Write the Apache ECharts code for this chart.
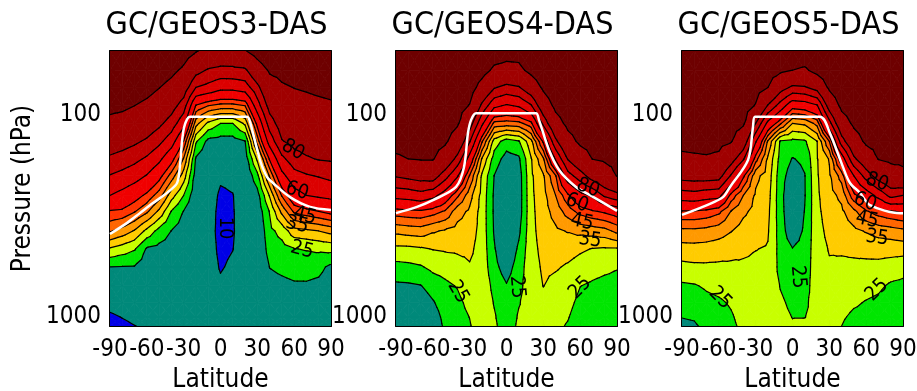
<!DOCTYPE html>
<html>
<head>
<meta charset="utf-8">
<script src="https://cdn.jsdelivr.net/npm/echarts@6/dist/echarts.min.js"></script>
<style>
  html, body { margin: 0; padding: 0; background: #fff; }
  #chart { width: 917px; height: 391px; }
</style>
</head>
<body>
<div id="chart"></div>
<script>
// ---- Grid of the zonal-mean fields: latitude columns, pressure rows (hPa) ----
const latitudes = [-90, -80, -70, -60, -50, -40, -30, -20, -10, 0, 10, 20, 30, 40, 50, 60, 70, 80, 90];
const pressures = [48.2, 60, 73, 90, 110, 135, 165, 200, 250, 300, 375, 460, 565, 700, 850, 1000, 1108];

// Contour levels and the fill colour of each band (below first level ... above last level)
const contourLevels = [10, 20, 25, 30, 35, 40, 45, 50, 60, 70, 80, 100];
const bandColors = ['#0000e6', '#00897a', '#00e600', '#c8ff00', '#ffcc00', '#ff9900', '#ff6600',
                    '#ff3300', '#f00000', '#dc0000', '#c00000', '#a00000', '#6e0000'];

const panelTitles = ['GC/GEOS3-DAS', 'GC/GEOS4-DAS', 'GC/GEOS5-DAS'];
const latTicks = [-90, -60, -30, 0, 30, 60, 90];
const pressureLabels = [100, 1000];
const pressureTicks = [50, 60, 70, 80, 90, 100, 200, 300, 400, 500, 600, 700, 800, 900, 1000];

// One row per pressure level (top to bottom), one value per latitude
const geos3Field = [
  [135,133,130,128,122,118,108,101,96,92,92,99,107,115,118,116,117,118,120],
  [125,123,120,117,109,104,97,84,78.7,76.7,77,78,91,102,104,106,108,109,112],
  [114,113,110,106,100.5,94.7,86.7,70,67,63,63,65,77,92.6,98.3,100.3,101.5,103,104],
  [104,103,100,96,91,84.7,74.7,49.3,45,43,43,45,65.4,84.2,91.7,94.4,95.7,96.9,98.1],
  [96,94,91.3,87.5,82.5,75.3,63.3,36.9,28.8,25,25,31,52,74.7,85.9,89,90.5,91.6,92.5],
  [87,85,82,78.3,72.4,64.4,49.4,25.6,18.5,18,18,19.8,42,64,79.3,83.4,85,86,86.8],
  [78,75.5,72.6,68.4,62.2,52.7,39.5,19.3,16,14.5,15,17,31,50.7,67.6,75.6,78.8,80.6,81.3],
  [69.5,67,64,59.4,52.4,42.8,32.5,17.5,14.5,11,11.5,15,23.5,40.6,57.1,66.4,69,70.6,72.4],
  [60,57,53.1,48.6,42.5,32.2,25,16,13.2,9,9.8,13.5,18,30.5,45.5,56.2,60,61.4,62.5],
  [49.5,48.8,45.4,41,33.9,24.8,19.8,15,12.5,8.5,9.6,13,16.5,25.3,36.3,46,48.1,50,52.1],
  [40.5,38,34.5,28.6,23.2,19.9,17.5,14.2,12,8.5,9.6,12.5,15,23.6,26.8,33,33.9,35,36.7],
  [29.4,27.5,25.5,19.4,18.5,18,16,13.8,12,9,9.9,12.5,14.5,22.3,23.2,24.8,25.4,26,26.5],
  [20,19.8,19.7,17.3,16.6,16.5,15,13.5,12.2,9.6,10.8,12.8,14,20.1,20.9,21.5,21.6,21.2,19],
  [16,16.2,16.4,15.1,14.6,15,14,13.5,12.5,10.8,12,13,14,18.5,19,19.5,19.5,19,17.5],
  [12,13,13.6,13.1,13,13.8,13.5,13.5,13,12.5,13,13.2,14,17.5,18,18.5,18.5,18,17],
  [9,10.2,11.2,11.5,12,13,13,13.5,13,13,13.2,13.5,14,17,17.5,18,18,17.5,16.5],
  [7.5,8.8,9.9,10.6,11.5,12.5,12.8,13.5,13,13,13.3,13.5,14,16.5,17,17.5,17.5,17,16]
];

const geos4Field = [
  [130,130,130,128,126,122,118,116,108,105,106,115,120,125,128,130,130,130,130],
  [124.6,125,125,123,121,116.5,112,106,97.1,95.7,96,104.5,112,118,122,125,125,125,125],
  [119.8,120,120,118.5,116.5,111.5,107.2,93.9,81,76.7,79,88.4,103,112,117,120,120,120,120],
  [114.4,115,115,113.5,111.5,106,99.2,77.5,62,58.8,61,68.8,89,104,110,114,115,115,115],
  [109.6,110,110,109,107,102,85.6,62,43.3,42.6,43.3,48.3,72.5,93,104,108,110,110,110],
  [104.5,105,105,105,102.5,91.2,70.8,45.7,27.7,22.5,24.5,33.4,51.1,77.5,94,103,105,105,106],
  [98,100,101,101,91,76.4,55.8,34.5,22.6,18,19.1,29.6,39.3,61,80.7,90.8,100.2,102,103.5],
  [81,83,85,86,74,60.9,44.6,29.2,19.9,15.6,17.4,29.1,34.4,44.6,66,75,85.5,92.7,100.5],
  [63,64,66,62.9,55,46.1,36.9,28.3,19.2,14.3,17.2,28.9,33.3,40,48.8,56.9,61.4,71.7,76.7],
  [47.7,48.5,49,47.2,44.4,37.1,34.1,28,19.2,13.5,17.3,28.7,32.8,37,42.3,46.9,49.3,51,53.3],
  [36.3,37,37.5,35.6,34.4,33.2,32.5,28,19.5,13.5,18.9,28.5,32.3,34.1,35.3,36.3,37.1,38.2,41.4],
  [28.7,28.8,29.4,30.2,30.6,30.8,31,28,20.5,14.5,21,28.3,31.4,32.3,32,30.8,29.8,29.4,29.5],
  [23.4,23.8,24.5,26.3,26.9,28.1,29.6,28,21.7,17.3,22.7,28,30.7,30.5,29.4,27.9,26.8,26,25.3],
  [19.1,19.3,19.8,22.2,24,25.3,28,28.2,23.6,20.4,23.8,27.5,30.1,28.6,27.8,25.1,24.3,23.7,23.5],
  [15.4,15.8,17,19.5,22.5,23.8,26.3,28.5,24.7,22,24.7,27,28.7,27.3,26.4,23.7,22.9,22.1,22.1],
  [13.8,14.2,15.5,17.5,21.5,23.2,25.1,28.3,25.5,22,25.5,26.7,27.6,26.5,25.3,22.6,21.7,20.8,21],
  [13,13.5,15,16.5,21,23,24.6,28,26,22,26,26.5,27,26,24.6,22,21,20,20.4]
];

const geos5Field = [
  [130,130,130,130,128,125,118,112,108,110,110,113,118,124,128,130,130,130,130],
  [124.5,124.5,125,125,123,119,112,107,103,100,97.8,105,110,118,122,125,125,125,125],
  [119.6,119.6,120,120,118,113,106,100,85.3,77.8,78.9,84.6,103,112,116,120,120,120,120],
  [114,114.3,114.7,114.4,112,107,99,78.9,65.7,52.9,54.3,58.8,85.7,104,109,114,115,115,115],
  [109.2,109.3,109.6,109,106,102,80,57.1,46,35,36,41.7,66.3,91.3,103,108,110,110,110],
  [104,104.4,104.7,104,101,87.8,61,39.2,24.5,23.6,24.3,29.9,45,75,92,103,105,105,106],
  [97,97.8,98.5,97,85.5,71,47.1,34.1,23.3,19.7,21.1,29.7,35.4,54.4,77.8,89.6,100.5,103,103],
  [84.4,85.2,85.4,84.4,68.8,51.1,36.3,32.8,22.2,17.4,19.8,29.5,34.2,42.2,60,74,85.5,92,96.5],
  [65,66,64,62.9,48.1,40,34.3,31.8,22,14.7,19.7,29.2,33.2,36.3,48.5,54.2,62.9,72.9,70],
  [49.5,49.5,48.5,46.3,39.8,36,33.5,31.1,22.3,14.7,20.2,28.9,32.3,34,38.75,44.4,47.5,49.4,51],
  [38.75,38.8,38.2,37.1,35.2,33,31.9,30.4,22.8,16.2,21,28.4,31.3,32.2,33.8,35.4,36.9,37.7,38.75],
  [33,33.2,33,32.5,31.7,30.8,30.1,29.7,23.2,20.2,22,28,30.3,30.5,31,31.5,31.9,32,32.1],
  [28.6,29,29.1,29,29.1,29.3,29.2,29.2,23.5,21.8,22.6,27.7,29.5,29.2,29,28.8,28.6,27.8,26.9],
  [24.2,24.6,25.7,26.4,27.2,28.3,28.2,28.6,24.8,23.2,23.4,27.3,28.7,28.1,27.2,26.6,25.9,24.3,23.8],
  [22,22.3,23.6,24.3,25.5,27.3,27.7,28.3,25.7,24.1,24.2,26.9,28,26.8,25.6,24.7,24,22.5,22.2],
  [20.1,20.4,22,23.1,24.5,26.6,27.3,28.1,26.2,24.9,24.9,26.4,27.4,25.6,24.1,23.7,22.3,21,20.8],
  [19.2,19.5,21,22.1,24.1,26,27,28,26.4,25.4,25.9,26.1,27.1,25,23.1,23,21.2,20.3,20.1]
];

// Tropopause (white curve): latitude and pressure (hPa)
const geos3TropLat = [-90,-76,-65.6,-55,-43.6,-35.4,-33,-31.4,-29.8,-27.3,-24.8,21.6,24,26.5,32.2,37.9,42.8,56.6,72.9,90];
const geos3TropP   = [388,342,306,273,243,217,177,136,116,105,102,102,108,123,167,203,217,255,285,295];
const geos4TropLat = [-90,-72.9,-59.9,-41.1,-34.6,-31.4,-28.9,-24.8,24,26.5,34.6,42.8,56.6,68,90];
const geos4TropP   = [306,285,264,227,181,123,106,98,98,106,149,187,227,249,298];
const geos5TropLat = [-90,-69.6,-56.6,-50.9,-36.2,-32.2,-30.5,22.4,30.5,41.1,46.8,55,63.1,87.6,90];
const geos5TropP   = [312,279,255,227,167,115,102,102,123,181,217,243,279,306,306];

// Contour labels: latitude, pressure, text, text angle (degrees)
const geos3Labels = [[59,149,'80',-30],[62.3,238,'60',-18],[68.8,316,'45',-15],[62.3,350,'35',-12],[66.4,466,'25',-15],[3.7,363,'10',-90]];
const geos4Labels = [[66.4,230,'80',-20],[57.4,273,'60',-20],[61.5,339,'45',-12],[68,416,'35',-8],[-39.5,752,'25',-60],[8.5,710,'25',-85],[59.9,718,'25',45]];
const geos5Labels = [[68.8,215,'80',-20],[59,270,'60',-20],[60.7,331,'45',-12],[68.8,406,'35',-8],[-59,805,'25',-45],[4.5,634,'25',-85],[68.8,735,'25',45]];

// ---- Rendering helpers ----
const FONT = "'Liberation Sans Narrow','Arial Narrow','DejaVu Sans Condensed',sans-serif";
const P_MIN = 48.2, P_MAX = 1108;
const plotLefts = [110, 396, 682];
const PLOT_TOP = 51, PLOT_W = 221, PLOT_H = 275;

const fields = [geos3Field, geos4Field, geos5Field];
const tropLats = [geos3TropLat, geos4TropLat, geos5TropLat];
const tropPs = [geos3TropP, geos4TropP, geos5TropP];
const panelLabels = [geos3Labels, geos4Labels, geos5Labels];

// each grid cell: lat0, p0, lat1, p1, then the four corner values
function cellItems(field) {
  const items = [];
  for (let j = 0; j < pressures.length - 1; j++) {
    for (let i = 0; i < latitudes.length - 1; i++) {
      items.push([latitudes[i], pressures[j], latitudes[i + 1], pressures[j + 1],
                  field[j][i], field[j][i + 1], field[j + 1][i + 1], field[j + 1][i]]);
    }
  }
  return items;
}

// split a cell into four triangles around its centre, in pixel space
function cellTriangles(api) {
  const a = api.coord([api.value(0), api.value(1)]);
  const c = api.coord([api.value(2), api.value(3)]);
  const q = [
    [a[0], a[1], api.value(4)],
    [c[0], a[1], api.value(5)],
    [c[0], c[1], api.value(6)],
    [a[0], c[1], api.value(7)]
  ];
  const m = [(a[0] + c[0]) / 2, (a[1] + c[1]) / 2, (q[0][2] + q[1][2] + q[2][2] + q[3][2]) / 4];
  return [[q[0], q[1], m], [q[1], q[2], m], [q[2], q[3], m], [q[3], q[0], m]];
}

function clipPoly(poly, level, keepAbove) {
  const out = [];
  for (let k = 0; k < poly.length; k++) {
    const p = poly[k], r = poly[(k + 1) % poly.length];
    const pin = keepAbove ? p[2] >= level : p[2] <= level;
    const rin = keepAbove ? r[2] >= level : r[2] <= level;
    if (pin) out.push(p);
    if (pin !== rin) {
      const t = (level - p[2]) / (r[2] - p[2]);
      out.push([p[0] + t * (r[0] - p[0]), p[1] + t * (r[1] - p[1]), level]);
    }
  }
  return out;
}

function renderFill(params, api) {
  const children = [];
  cellTriangles(api).forEach(tri => {
    const vmin = Math.min(tri[0][2], tri[1][2], tri[2][2]);
    const vmax = Math.max(tri[0][2], tri[1][2], tri[2][2]);
    for (let b = 0; b < bandColors.length; b++) {
      const lo = b === 0 ? -Infinity : contourLevels[b - 1];
      const hi = b === contourLevels.length ? Infinity : contourLevels[b];
      if (vmax < lo || vmin > hi) continue;
      let poly = tri;
      if (lo > -Infinity) poly = clipPoly(poly, lo, true);
      if (poly.length >= 3 && hi < Infinity) poly = clipPoly(poly, hi, false);
      if (poly.length >= 3) {
        children.push({
          type: 'polygon',
          shape: { points: poly.map(v => [v[0], v[1]]) },
          style: { fill: bandColors[b], stroke: bandColors[b], lineWidth: 0.8 },
          silent: true
        });
      }
    }
  });
  return { type: 'group', children: children };
}

function renderIsolines(params, api) {
  const children = [];
  cellTriangles(api).forEach(tri => {
    contourLevels.forEach(L => {
      const pts = [];
      for (let e = 0; e < 3; e++) {
        const p = tri[e], r = tri[(e + 1) % 3];
        if ((p[2] < L) !== (r[2] < L)) {
          const t = (L - p[2]) / (r[2] - p[2]);
          pts.push([p[0] + t * (r[0] - p[0]), p[1] + t * (r[1] - p[1])]);
        }
      }
      if (pts.length === 2) {
        children.push({
          type: 'line',
          shape: { x1: pts[0][0], y1: pts[0][1], x2: pts[1][0], y2: pts[1][1] },
          style: { stroke: '#000', lineWidth: 1.2, lineCap: 'round' },
          silent: true
        });
      }
    });
  });
  return { type: 'group', children: children };
}

function labelRenderer(labels) {
  return function (params, api) {
    const lab = labels[params.dataIndex];
    const pt = api.coord([lab[0], lab[1]]);
    return {
      type: 'text',
      x: pt[0], y: pt[1],
      rotation: lab[3] * Math.PI / 180,
      style: { text: lab[2], fill: '#000', fontSize: 20, fontFamily: FONT, align: 'center', verticalAlign: 'middle' },
      silent: true
    };
  };
}

const axisLineStyle = { color: '#000', width: 2 };
const tickStyle = { color: '#000', width: 1.5 };

const grid = [], xAxis = [], yAxis = [], series = [], graphic = [];

for (let k = 0; k < 3; k++) {
  grid.push({ left: plotLefts[k], top: PLOT_TOP, width: PLOT_W, height: PLOT_H, outerBoundsMode: 'none' });

  xAxis.push({
    gridIndex: k, type: 'value', min: -90, max: 90, interval: 30, position: 'bottom',
    axisLine: { show: true, onZero: false, lineStyle: axisLineStyle },
    axisTick: { show: true, inside: true, length: 6, lineStyle: tickStyle },
    axisLabel: { show: true, interval: 0, color: '#000', fontSize: 24, fontFamily: FONT, margin: 12,
                 customValues: latTicks, formatter: v => String(Math.round(v)) },
    splitLine: { show: false },
    name: 'Latitude', nameLocation: 'middle', nameGap: 37,
    nameTextStyle: { color: '#000', fontSize: 26, fontFamily: FONT }
  });
  xAxis.push({
    gridIndex: k, type: 'value', min: -90, max: 90, interval: 30, position: 'top',
    axisLine: { show: true, onZero: false, lineStyle: axisLineStyle },
    axisTick: { show: true, inside: true, length: 6, lineStyle: tickStyle },
    axisLabel: { show: false }, splitLine: { show: false }
  });

  yAxis.push({
    gridIndex: k, type: 'log', logBase: 10, min: P_MIN, max: P_MAX, inverse: true, position: 'left',
    axisLine: { show: true, onZero: false, lineStyle: axisLineStyle },
    axisTick: { show: true, inside: true, length: 5, lineStyle: tickStyle, customValues: pressureTicks },
    axisLabel: { show: true, color: '#000', fontSize: 24, fontFamily: FONT, margin: 9,
                 customValues: pressureLabels, formatter: v => String(Math.round(v)) },
    splitLine: { show: false }, minorTick: { show: false },
    name: k === 0 ? 'Pressure (hPa)' : '', nameLocation: 'middle', nameGap: 74,
    nameTextStyle: { color: '#000', fontSize: 26, fontFamily: FONT }
  });
  yAxis.push({
    gridIndex: k, type: 'log', logBase: 10, min: P_MIN, max: P_MAX, inverse: true, position: 'right',
    axisLine: { show: true, onZero: false, lineStyle: axisLineStyle },
    axisTick: { show: true, inside: true, length: 5, lineStyle: tickStyle, customValues: pressureTicks },
    axisLabel: { show: false }, splitLine: { show: false }
  });

  const xi = 2 * k, yi = 2 * k;
  const cells = cellItems(fields[k]);
  series.push({
    type: 'custom', xAxisIndex: xi, yAxisIndex: yi, renderItem: renderFill, data: cells,
    encode: { x: [0, 2], y: [1, 3] }, clip: true, z: 1, silent: true
  });
  series.push({
    type: 'custom', xAxisIndex: xi, yAxisIndex: yi, renderItem: renderIsolines, data: cells,
    encode: { x: [0, 2], y: [1, 3] }, clip: true, z: 2, silent: true
  });
  series.push({
    type: 'line', xAxisIndex: xi, yAxisIndex: yi,
    data: tropLats[k].map((lat, i) => [lat, tropPs[k][i]]),
    symbol: 'none', smooth: 0.3, clip: true, z: 3, silent: true,
    lineStyle: { color: '#fff', width: 2.5 }
  });
  series.push({
    type: 'custom', xAxisIndex: xi, yAxisIndex: yi, renderItem: labelRenderer(panelLabels[k]),
    data: panelLabels[k].map(l => [l[0], l[1]]), encode: { x: 0, y: 1 }, clip: false, z: 4, silent: true
  });

  graphic.push({
    type: 'text', x: plotLefts[k] + PLOT_W / 2 - 4, y: 26, silent: true,
    style: { text: panelTitles[k], fill: '#000', fontSize: 32, fontFamily: FONT, align: 'center', verticalAlign: 'middle' }
  });
}

const chart = echarts.init(document.getElementById('chart'), null, { renderer: 'canvas', width: 917, height: 391 });
chart.setOption({
  animation: false,
  backgroundColor: '#fff',
  grid: grid,
  xAxis: xAxis,
  yAxis: yAxis,
  series: series,
  graphic: graphic
});
</script>
</body>
</html>
